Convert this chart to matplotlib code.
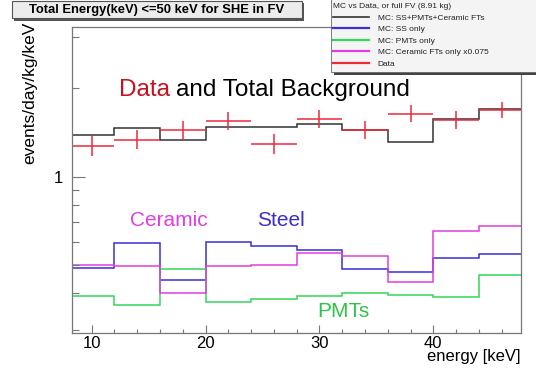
import matplotlib
matplotlib.use("Agg")
import matplotlib.pyplot as plt
from matplotlib.patches import Rectangle
from matplotlib.lines import Line2D
from matplotlib.ticker import FixedLocator, NullFormatter, MultipleLocator

plt.rcParams["font.family"] = ["Liberation Sans", "DejaVu Sans"]

# energy bins (keV)
edges = [8, 12, 16, 20, 24, 28, 32, 36, 40, 44, 48]
centers = [10, 14, 18, 22, 26, 30, 34, 38, 42, 46]

total_bkg = [1.388, 1.463, 1.331, 1.481, 1.481, 1.517, 1.440, 1.310, 1.577, 1.698]
steel = [0.489, 0.592, 0.443, 0.597, 0.581, 0.562, 0.483, 0.473, 0.528, 0.545]
ceramic = [0.499, 0.496, 0.400, 0.496, 0.499, 0.550, 0.538, 0.436, 0.653, 0.679]
pmts = [0.392, 0.364, 0.483, 0.374, 0.383, 0.391, 0.402, 0.395, 0.389, 0.463]
data = [1.276, 1.338, 1.440, 1.549, 1.293, 1.577, 1.443, 1.641, 1.562, 1.689]
data_err = [0.10, 0.10, 0.11, 0.11, 0.10, 0.11, 0.10, 0.11, 0.11, 0.11]

c_total = "#333333"
c_steel = "#3b2fd6"
c_pmt = "#33d65a"
c_cer = "#e03ee0"
c_data = "#ec2a3c"

fig = plt.figure(figsize=(5.36, 3.68), dpi=100)
ax = fig.add_axes([0.135, 0.095, 0.837, 0.831])

ax.stairs(total_bkg, edges, color=c_total, lw=1.1)
ax.stairs(steel, edges, color=c_steel, lw=1.1)
ax.stairs(pmts, edges, color=c_pmt, lw=1.1)
ax.stairs(ceramic, edges, color=c_cer, lw=1.1)
ax.errorbar(centers, data, xerr=2, yerr=data_err, fmt="none", ecolor=c_data, elinewidth=1.1)

ax.set_yscale("log")
ax.set_xlim(8.3, 47.7)
ax.set_ylim(0.293, 3.23)

ax.xaxis.set_major_locator(FixedLocator([10, 20, 30, 40]))
ax.xaxis.set_minor_locator(MultipleLocator(2))
ax.yaxis.set_major_locator(FixedLocator([1]))
ax.yaxis.set_major_formatter(plt.FixedFormatter(["1"]))
ax.yaxis.set_minor_locator(FixedLocator([0.3, 0.4, 0.5, 0.6, 0.7, 0.8, 0.9, 2, 3]))
ax.yaxis.set_minor_formatter(NullFormatter())
ax.tick_params(which="both", direction="in", colors="#777777", labelcolor="black", labelsize=12)
ax.tick_params(axis="y", which="major", length=9.5, width=0.8, pad=7)
ax.tick_params(axis="y", which="minor", length=5, width=0.8)
ax.tick_params(axis="x", which="major", length=6, width=0.8, pad=2)
ax.tick_params(axis="x", which="minor", length=3, width=0.8)
for s in ax.spines.values():
    s.set_color("#777777")
    s.set_linewidth(0.9)

ax.set_xlabel("energy [keV]", fontsize=12, loc="right", labelpad=-1)
fig.text(0.056, 0.94, "events/day/kg/keV", rotation=90, fontsize=12.5, ha="center", va="top")

t_data = ax.text(12.4, 1.98, "Data", color="#c8101e", fontsize=17.5, va="center")
ax.annotate("and Total Background", xy=(1, 0.5), xycoords=t_data, xytext=(4, 0),
            textcoords="offset points", color="black", fontsize=17.5, va="center")
ax.text(13.36, 0.708, "Ceramic", color=c_cer, fontsize=15, va="center")
ax.text(24.5, 0.708, "Steel", color="#3b2fc8", fontsize=15, va="center")
ax.text(29.8, 0.346, "PMTs", color="#2ec448", fontsize=15, va="center")

# title pave with shadow
fig.add_artist(Rectangle((0.027, 0.943), 0.541, 0.048, transform=fig.transFigure,
                         facecolor="#555555", edgecolor="none"))
fig.add_artist(Rectangle((0.0224, 0.951), 0.541, 0.046, transform=fig.transFigure,
                         facecolor="#ececec", edgecolor="#555555", lw=0.8))
fig.text(0.293, 0.974, "Total Energy(keV) <=50 keV for SHE in FV", fontsize=9.4,
         fontweight="bold", ha="center", va="center")

# legend pave with shadow
fig.add_artist(Rectangle((0.6231, 0.796), 0.38, 0.2, transform=fig.transFigure,
                         facecolor="#444444", edgecolor="none"))
fig.add_artist(Rectangle((0.6175, 0.8043), 0.385, 0.2, transform=fig.transFigure,
                         facecolor="#f4f4f4", edgecolor="#666666", lw=0.6))
fig.text(0.622, 1 - 7 / 368, "MC vs Data, or full FV (8.91 kg)", fontsize=6,
         color="#222222", va="center", ha="left")
handles = [Line2D([], [], color=c_total, lw=1.2), Line2D([], [], color=c_steel, lw=1.6),
           Line2D([], [], color=c_pmt, lw=1.6), Line2D([], [], color=c_cer, lw=1.6),
           Line2D([], [], color=c_data, lw=1.6)]
labels = ["MC: SS+PMTs+Ceramic FTs", "MC: SS only", "MC: PMTs only",
          "MC: Ceramic FTs only x0.075", "Data"]
leg = fig.legend(handles, labels, loc="upper left", bbox_to_anchor=(0.6175, 1 - 12 / 368),
                 fontsize=6, handlelength=4.4, handletextpad=1.0, labelspacing=0.45,
                 borderpad=0.2, frameon=False, borderaxespad=0)
for t in leg.get_texts():
    t.set_color("#222222")

fig.savefig("out.png", dpi=100)
